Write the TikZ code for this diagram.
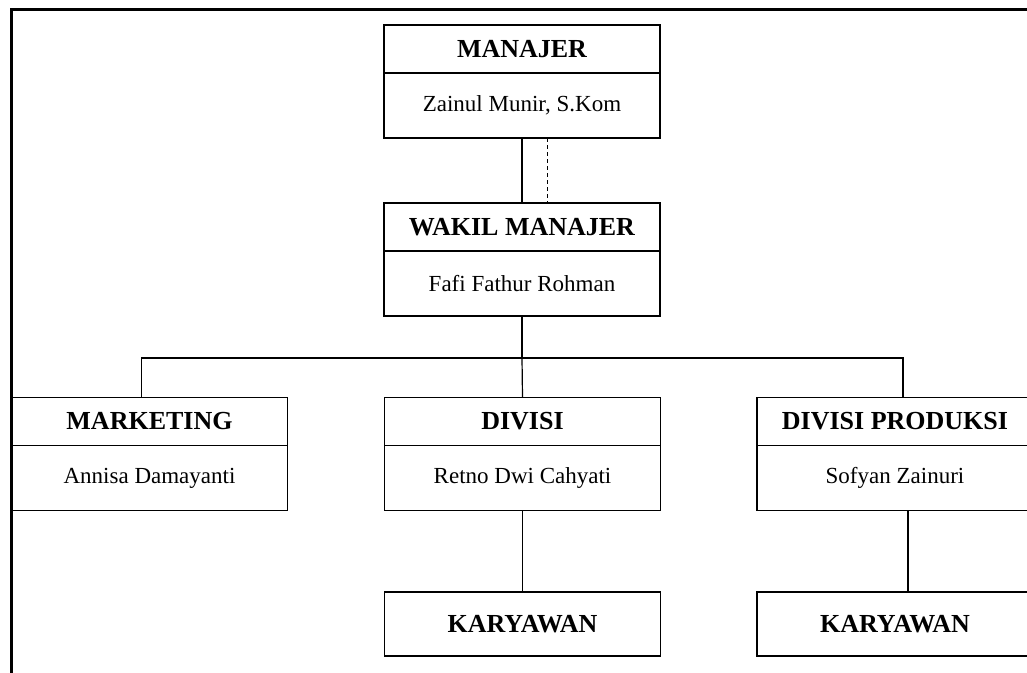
\documentclass[tikz,border=0pt]{standalone}
\usepackage{fontspec}
\setmainfont{Liberation Serif}
\usetikzlibrary{positioning}
\tikzset{
  jabatan/.style={draw,line width=1.3pt,outer sep=0pt,inner sep=0pt,minimum width=276pt,minimum height=48pt,font=\fontsize{26}{26}\selectfont\bfseries},
  nama/.style={draw,line width=1.3pt,outer sep=0pt,inner sep=0pt,minimum width=276pt,minimum height=65pt,font=\fontsize{23}{23}\selectfont},
  karyawan/.style={jabatan,minimum height=64pt},
  garis/.style={line width=1.2pt}
}
\begin{document}
\begin{tikzpicture}[x=1pt,y=-1pt]
\useasboundingbox (0,0) rectangle (1027,672);
\clip (0,0) rectangle (1027,672);
\draw[line width=3pt] (11,700) -- (11,9.5) -- (1040,9.5);
\node[jabatan] (mgr) at (522,49) {MANAJER};
\node[nama,below=0pt of mgr] (mgrnama) {Zainul Munir, S.Kom};
\node[jabatan] (wakil) at (522,227) {WAKIL MANAJER};
\node[nama,below=0pt of wakil] (wakilnama) {Fafi Fathur Rohman};
\node[jabatan] (mkt) at (149.5,421.5) {MARKETING};
\node[nama,below=0pt of mkt] (mktnama) {Annisa Damayanti};
\node[jabatan] (div) at (522.5,421.5) {DIVISI};
\node[nama,below=0pt of div] (divnama) {Retno Dwi Cahyati};
\node[jabatan] (prod) at (895,421.5) {DIVISI PRODUKSI};
\node[nama,below=0pt of prod] (prodnama) {Sofyan Zainuri};
\node[karyawan] (kar1) at (522.5,624) {KARYAWAN};
\node[karyawan] (kar2) at (895,624) {KARYAWAN};
\coordinate (bus) at (522,358);
\draw[garis] (mgrnama.south) -- (wakil.north);
\draw[line width=1pt,dash pattern=on 4pt off 3pt] ([xshift=25pt]mgrnama.south) -- ([xshift=25pt]wakil.north);
\draw[garis] (wakilnama.south) -- (bus);
\draw[garis] ([xshift=-8pt]mkt.north) |- (bus) -| ([xshift=8pt]prod.north);
\draw[garis] (bus) -- (div.north);
\draw[garis] (divnama.south) -- (kar1.north);
\draw[garis] ([xshift=13pt]prodnama.south) -- ([xshift=13pt]kar2.north);
\end{tikzpicture}
\end{document}
